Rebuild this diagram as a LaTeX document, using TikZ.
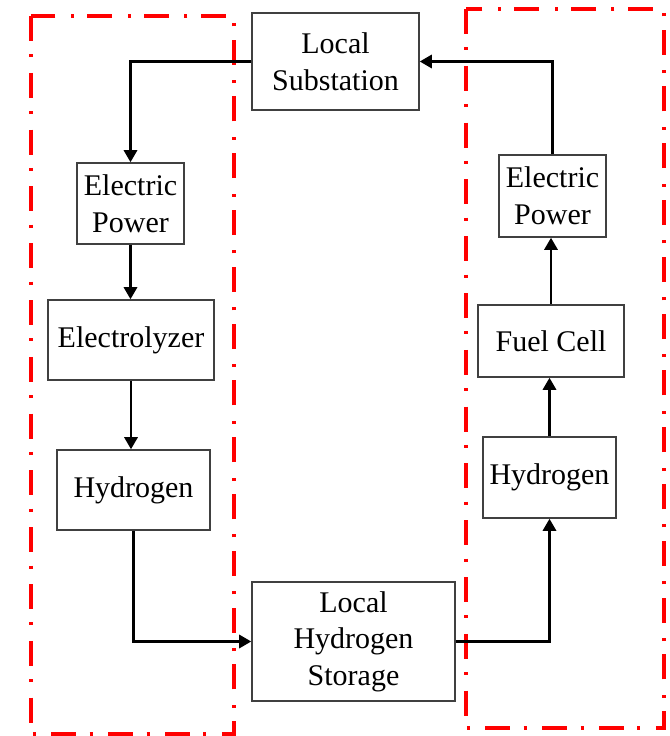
\documentclass[tikz,border=0pt]{standalone}
\usepackage{fontspec}
\setmainfont{Liberation Serif}
\usetikzlibrary{arrows.meta}
\begin{document}
\begin{tikzpicture}[x=0.75pt,y=-0.75pt,
  blk/.style={draw=black!75,line width=1.2pt,align=center,inner sep=0pt,
    font=\fontsize{22.5}{27.5}\selectfont},
  conn/.style={draw=black,line width=1.6pt,-{Triangle[length=9pt,width=10pt]}},
  grp/.style={draw=red,line width=2.5pt,dash pattern=on 18.75pt off 10pt on 2.25pt off 11.6pt}]
\useasboundingbox (0,0) rectangle (669,736);
% groups
\draw[grp] (31,16) rectangle (234,734);
\draw[grp] (466,9) rectangle (664,728);
% boxes
\node[blk,minimum width=167*0.75pt,minimum height=97*0.75pt] (sub) at (335.5,61.5) {Local\\Substation};
\node[blk,minimum width=107*0.75pt,minimum height=81*0.75pt] (epL) at (130.5,203.5) {Electric\\Power};
\node[blk,minimum width=166*0.75pt,minimum height=80*0.75pt] (ely) at (131,340) {Electrolyzer};
\node[blk,minimum width=153*0.75pt,minimum height=80*0.75pt] (h2L) at (133.5,490) {Hydrogen};
\node[blk,minimum width=203*0.75pt,minimum height=119*0.75pt] (sto) at (353.5,641.5) {Local\\Hydrogen\\Storage};
\node[blk,minimum width=133*0.75pt,minimum height=81*0.75pt] (h2R) at (549.5,477.5) {Hydrogen};
\node[blk,minimum width=146*0.75pt,minimum height=72*0.75pt] (fc) at (551,341) {Fuel Cell};
\node[blk,minimum width=107*0.75pt,minimum height=82*0.75pt] (epR) at (552.5,196) {Electric\\Power};
% connectors
\draw[conn] (sub.west) -| (epL.north);
\draw[conn] (epL.south) -- (epL.south |- ely.north);
\draw[conn] (ely.south) -- (ely.south |- h2L.north);
\draw[conn] (h2L.south) |- (sto.west);
\draw[conn] (sto.east) -| (h2R.south);
\draw[conn] (h2R.north) -- (h2R.north |- fc.south);
\draw[conn] (fc.north) -- (fc.north |- epR.south);
\draw[conn] (epR.north) |- (sub.east);
\end{tikzpicture}
\end{document}
